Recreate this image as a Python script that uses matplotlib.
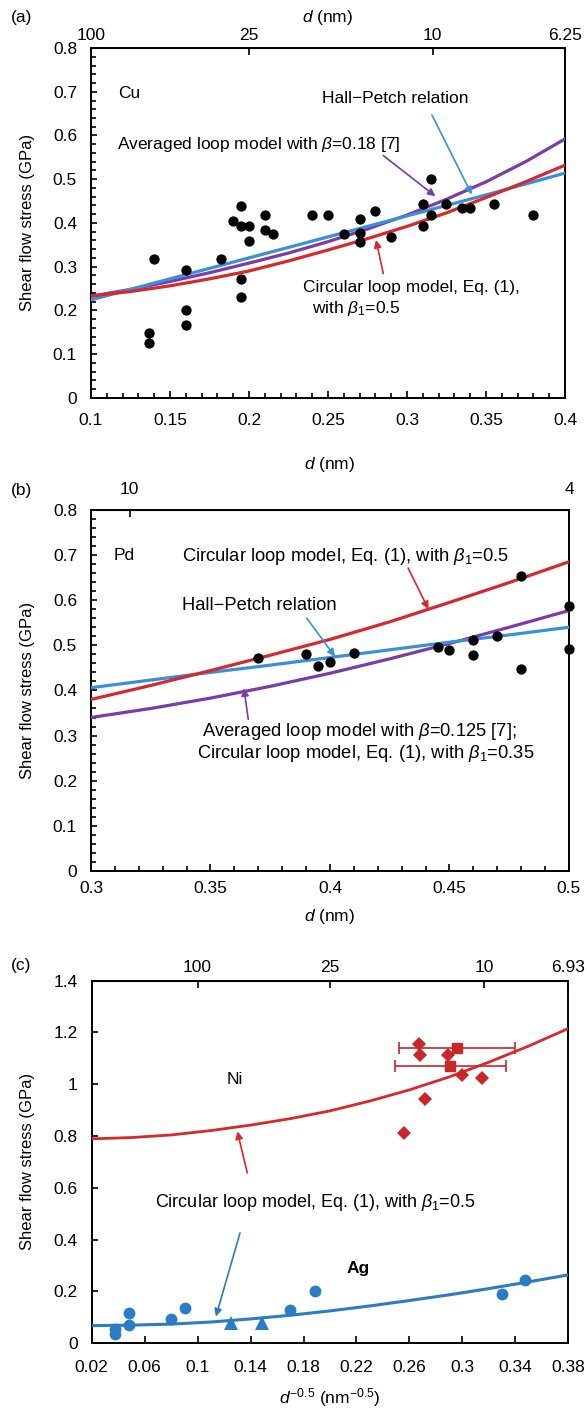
import numpy as np
import matplotlib
matplotlib.use("Agg")
import matplotlib.pyplot as plt
from matplotlib.ticker import MultipleLocator, FormatStrFormatter

plt.rcParams['font.family'] = ['Liberation Sans', 'DejaVu Sans']
plt.rcParams['mathtext.fontset'] = 'custom'
plt.rcParams['mathtext.rm'] = 'Liberation Sans'
plt.rcParams['mathtext.it'] = 'Liberation Sans:italic'
plt.rcParams['font.size'] = 12

# ---- panel (a) Cu: x = d^-0.5 (nm^-0.5), y = shear flow stress (GPa)
cu_x = [0.137, 0.137, 0.14, 0.16, 0.16, 0.16, 0.182, 0.19, 0.195, 0.195, 0.2, 0.2,
        0.195, 0.195, 0.21, 0.21, 0.215, 0.24, 0.25, 0.26, 0.27, 0.27, 0.27, 0.28,
        0.29, 0.31, 0.31, 0.315, 0.315, 0.325, 0.335, 0.34, 0.355, 0.38]
cu_y = [0.147, 0.126, 0.318, 0.293, 0.201, 0.167, 0.317, 0.404, 0.438, 0.394, 0.394, 0.358,
        0.271, 0.23, 0.417, 0.383, 0.375, 0.417, 0.417, 0.375, 0.409, 0.376, 0.356, 0.427,
        0.367, 0.444, 0.393, 0.5, 0.419, 0.444, 0.434, 0.434, 0.444, 0.418]
cu_fit_x = [0.1, 0.125, 0.15, 0.175, 0.2, 0.225, 0.25, 0.275, 0.3, 0.325, 0.35, 0.375, 0.4]
cu_circular = [0.233, 0.243, 0.256, 0.272, 0.29, 0.313, 0.338, 0.364, 0.392, 0.423, 0.458,
               0.494, 0.532]
cu_hall_petch = [0.224, 0.248, 0.272, 0.296, 0.32, 0.344, 0.368, 0.392, 0.416, 0.44, 0.464,
                 0.489, 0.514]
cu_averaged = [0.232, 0.248, 0.266, 0.286, 0.308, 0.331, 0.357, 0.386, 0.418, 0.454, 0.494,
               0.54, 0.592]

# ---- panel (b) Pd
pd_x = [0.37, 0.39, 0.395, 0.4, 0.41, 0.445, 0.45, 0.46, 0.46, 0.47, 0.48, 0.48, 0.5, 0.5]
pd_y = [0.472, 0.481, 0.455, 0.462, 0.483, 0.496, 0.489, 0.512, 0.479, 0.521, 0.654, 0.448,
        0.588, 0.492]
pd_fit_x = [0.3, 0.325, 0.35, 0.375, 0.4, 0.425, 0.45, 0.475, 0.5]
pd_circular = [0.38, 0.411, 0.444, 0.478, 0.513, 0.552, 0.595, 0.639, 0.685]
pd_hall_petch = [0.406, 0.423, 0.44, 0.456, 0.473, 0.49, 0.507, 0.523, 0.54]
pd_averaged = [0.34, 0.36, 0.383, 0.409, 0.438, 0.47, 0.504, 0.54, 0.577]

# ---- panel (c) Ni and Ag
ni_diamond_x = [0.267, 0.268, 0.272, 0.256, 0.289, 0.3, 0.315]
ni_diamond_y = [1.154, 1.111, 0.944, 0.812, 1.113, 1.035, 1.025]
ni_square_x = [0.296, 0.291]
ni_square_y = [1.141, 1.07]
ni_square_xerr = [0.044, 0.042]
ag_circle_x = [0.0375, 0.0375, 0.048, 0.048, 0.08, 0.0905, 0.17, 0.189, 0.33, 0.347]
ag_circle_y = [0.055, 0.036, 0.116, 0.071, 0.093, 0.135, 0.129, 0.2, 0.19, 0.245]
ag_triangle_x = [0.125, 0.149]
ag_triangle_y = [0.077, 0.077]
c_fit_x = [0.02, 0.05, 0.08, 0.11, 0.14, 0.17, 0.2, 0.23, 0.26, 0.29, 0.32, 0.35, 0.38]
ni_circular = [0.789, 0.794, 0.804, 0.821, 0.842, 0.867, 0.897, 0.935, 0.978, 1.028, 1.085,
               1.147, 1.215]
ag_circular = [0.068, 0.07, 0.074, 0.082, 0.094, 0.108, 0.125, 0.144, 0.165, 0.187, 0.211,
               0.237, 0.264]

# top axis: grain size d (nm)
cu_top_labels = ['100', '25', '10', '6.25']
cu_top_d = [100, 25, 10, 6.25]
pd_top_labels = ['10', '4']
pd_top_d = [10, 4]
c_top_labels = ['100', '25', '10', '6.93']
c_top_d = [100, 25, 10, 6.93]

RED = '#d7282d'
BLUE = '#3a8fd9'
PURPLE = '#7a3ca8'
NI_RED = '#c9262a'
AG_BLUE = '#2b7cc6'
FS = 12.5

fig = plt.figure(figsize=(5.87, 14.18), dpi=100)
ax_a = fig.add_axes([0.155, 0.7195, 0.8075, 0.2466])
ax_b = fig.add_axes([0.155, 0.3858, 0.8143, 0.2546])
ax_c = fig.add_axes([0.1562, 0.0527, 0.812, 0.2558])


def style_axis(ax, xmaj, xmin, ymaj, ymin, xpad):
    ax.xaxis.set_major_locator(MultipleLocator(xmaj))
    ax.yaxis.set_major_locator(MultipleLocator(ymaj))
    if xmin:
        ax.xaxis.set_minor_locator(MultipleLocator(xmin))
    if ymin:
        ax.yaxis.set_minor_locator(MultipleLocator(ymin))
    ax.xaxis.set_major_formatter(FormatStrFormatter('%g'))
    ax.yaxis.set_major_formatter(FormatStrFormatter('%g'))
    ax.tick_params(which='both', direction='in', top=False, right=False, width=1.2)
    ax.tick_params(which='major', length=5, labelsize=FS)
    ax.tick_params(which='minor', length=3.5)
    ax.tick_params(axis='x', which='major', pad=xpad)
    ax.tick_params(axis='y', which='major', length=4, pad=10)
    for s in ax.spines.values():
        s.set_linewidth(1.4)
    ax.set_ylabel('Shear flow stress (GPa)', fontsize=12, labelpad=13)


def top_axis(ax, d_vals, labels, label=None, pad=4, labelpad=6):
    sec = ax.secondary_xaxis('top')
    sec.set_xticks([d ** -0.5 for d in d_vals], labels)
    sec.tick_params(direction='in', length=5, width=1.2, labelsize=FS, pad=pad)
    if label:
        sec.set_xlabel(label, fontsize=FS, labelpad=labelpad)
    return sec


def arrow(ax, tail, head, color):
    ax.annotate('', xy=head, xytext=tail,
                arrowprops=dict(arrowstyle='-|>', color=color, lw=1.2,
                                mutation_scale=11, shrinkA=0, shrinkB=0))


# ---------------- (a)
ax = ax_a
ax.plot(cu_fit_x, cu_averaged, color=PURPLE, lw=2.3, zorder=3)
ax.plot(cu_fit_x, cu_hall_petch, color=BLUE, lw=2.3, zorder=3)
ax.plot(cu_fit_x, cu_circular, color=RED, lw=2.3, zorder=3)
ax.scatter(cu_x, cu_y, s=55, color='black', zorder=4, linewidths=0)
ax.set_xlim(0.1, 0.4)
ax.set_ylim(0, 0.8)
style_axis(ax, 0.05, 0.01, 0.1, 0.02, xpad=11)
top_axis(ax, cu_top_d, cu_top_labels, '$d$ (nm)', pad=4, labelpad=4)
ax.text(0.117, 0.697, 'Cu', fontsize=FS, va='center')
ax.text(0.246, 0.684, 'Hall\u2212Petch relation', fontsize=FS, va='center')
ax.text(0.1165, 0.58, r'Averaged loop model with $\beta$=0.18 [7]', fontsize=FS, va='center')
ax.text(0.2344, 0.253, 'Circular loop model, Eq. (1),', fontsize=FS, va='center')
ax.text(0.2397, 0.205, r'with $\beta_1$=0.5', fontsize=FS, va='center')
arrow(ax, (0.285, 0.554), (0.318, 0.461), PURPLE)
arrow(ax, (0.3158, 0.647), (0.341, 0.465), BLUE)
arrow(ax, (0.285, 0.284), (0.2804, 0.361), RED)
fig.text(0.018, 0.988, '(a)', fontsize=FS, va='center')

# ---------------- (b)
ax = ax_b
ax.plot(pd_fit_x, pd_averaged, color=PURPLE, lw=2.3, zorder=3)
ax.plot(pd_fit_x, pd_hall_petch, color=BLUE, lw=2.3, zorder=3)
ax.plot(pd_fit_x, pd_circular, color=RED, lw=2.3, zorder=3)
ax.scatter(pd_x, pd_y, s=55, color='black', zorder=4, linewidths=0, clip_on=False)
ax.set_xlim(0.3, 0.5)
ax.set_ylim(0, 0.8)
style_axis(ax, 0.05, 0.01, 0.1, 0.02, xpad=7)
ax.set_xlabel('$d$ (nm)', fontsize=FS, labelpad=8)
top_axis(ax, pd_top_d, pd_top_labels, '$d$ (nm)', pad=9, labelpad=10)
ax.text(0.3096, 0.70, 'Pd', fontsize=FS, va='center')
ax.text(0.3379, 0.697, r'Circular loop model, Eq. (1), with $\beta_1$=0.5', fontsize=13.2, va='center')
ax.text(0.3379, 0.588, 'Hall\u2212Petch relation', fontsize=13.2, va='center')
ax.text(0.3463, 0.309, r'Averaged loop model with $\beta$=0.125 [7];', fontsize=13.2, va='center')
ax.text(0.3442, 0.261, r'Circular loop model, Eq. (1), with $\beta_1$=0.35', fontsize=13.2, va='center')
arrow(ax, (0.4327, 0.671), (0.4412, 0.58), RED)
arrow(ax, (0.3903, 0.56), (0.4021, 0.475), BLUE)
arrow(ax, (0.3658, 0.336), (0.364, 0.405), PURPLE)
fig.text(0.018, 0.654, '(b)', fontsize=FS, va='center')

# ---------------- (c)
ax = ax_c
ax.plot(c_fit_x, ni_circular, color=RED, lw=2.0, zorder=3)
ax.plot(c_fit_x, ag_circular, color=AG_BLUE, lw=2.2, zorder=3)
ax.errorbar(ni_square_x, ni_square_y, xerr=ni_square_xerr, fmt='s', color=NI_RED,
            ms=7, elinewidth=1.2, capsize=4, capthick=1.2, zorder=4)
ax.plot(ni_diamond_x, ni_diamond_y, 'D', color=NI_RED, ms=7.5, mew=0, zorder=4)
ax.plot(ag_circle_x, ag_circle_y, 'o', color=AG_BLUE, ms=8.5, mew=0, zorder=4)
ax.plot(ag_triangle_x, ag_triangle_y, '^', color=AG_BLUE, ms=10, mew=0, zorder=4)
ax.set_xlim(0.02, 0.38)
ax.set_ylim(0, 1.4)
style_axis(ax, 0.04, None, 0.2, None, xpad=12)
ax.set_xticks(np.arange(0.02, 0.381, 0.04))
ax.set_xlabel('$d^{-0.5}$ (nm$^{-0.5}$)', fontsize=FS, labelpad=8)
top_axis(ax, c_top_d, c_top_labels)
ax.text(0.128, 1.02, 'Ni', fontsize=FS, ha='center', va='center')
ax.text(0.189, 0.542, r'Circular loop model, Eq. (1), with $\beta_1$=0.5', fontsize=13,
        ha='center', va='center')
ax.text(0.2214, 0.29, 'Ag', fontsize=FS, fontweight='bold', ha='center', va='center')
arrow(ax, (0.1375, 0.658), (0.13, 0.818), RED)
arrow(ax, (0.132, 0.4255), (0.1138, 0.103), AG_BLUE)
fig.text(0.018, 0.319, '(c)', fontsize=FS, va='center')

fig.savefig('out.png', dpi=100)
